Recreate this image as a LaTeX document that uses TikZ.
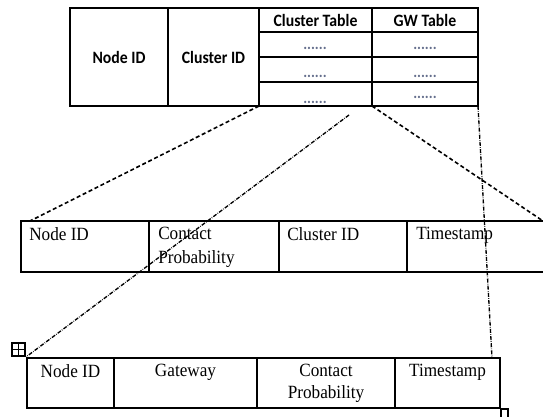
\documentclass[tikz,border=0pt]{standalone}
\usepackage{fontspec}
\setmainfont{Liberation Serif}[FakeStretch=0.92]
\newfontfamily\hdrfont{Carlito}[FakeStretch=0.91]
\definecolor{dotgray}{RGB}{100,110,140}
\tikzset{
  hdr/.style={font=\hdrfont\bfseries\fontsize{13}{15}\selectfont, inner sep=0pt},
  celldots/.style={font=\hdrfont\bfseries\fontsize{12}{14}\selectfont, text=dotgray, inner sep=0pt, anchor=base},
  lefttxt/.style={font=\fontsize{14}{17.7}\selectfont, align=left, anchor=north west, inner sep=0pt},
  midtxt/.style={font=\fontsize{14}{16.3}\selectfont, align=center, anchor=north, inner sep=0pt},
  gridline/.style={line width=1.5pt},
  dashlink/.style={densely dashed, line width=1.2pt},
  dotlink/.style={densely dash dot, line width=1pt},
}
\begin{document}
\begin{tikzpicture}[x=0.75pt, y=-0.75pt]
  \useasboundingbox (0,0) rectangle (543,417);
  \clip (0,0) rectangle (543,417);

  % upper record
  \draw[gridline] (70,8) rectangle (478,106);
  \draw[gridline] (168,8) -- (168,106);
  \draw[gridline] (259,8) -- (259,106);
  \draw[gridline] (372,8) -- (372,106);
  \foreach \y in {32,57,82}
    \draw[gridline] (259,\y) -- (478,\y);

  \node[hdr] (tnode) at (119,57) {Node ID};
  \node[hdr] (tcluster) at (213.5,57) {Cluster ID};
  \node[hdr] (tctab) at (315.5,20) {Cluster Table};
  \node[hdr] (tgw) at (425,20) {GW Table};
  \node[celldots] (ct1) at (315,50) {......};
  \node[celldots] (gw1) at (425,50) {......};
  \node[celldots] (ct2) at (315,77.5) {......};
  \node[celldots] (gw2) at (425,77.5) {......};
  \node[celldots] (ct3) at (315,103.5) {......};
  \node[celldots] (gw3) at (425,98.5) {......};

  % cluster table entry
  \draw[gridline] (21,221) rectangle (550,272);
  \draw[gridline] (148.5,221) -- (148.5,272);
  \draw[gridline] (279,221) -- (279,272);
  \draw[gridline] (407,221) -- (407,272);

  \node[lefttxt] (cnode) at (29,227) {Node ID};
  \node[lefttxt] (cprob) at (158,227) {Contact\\Probability};
  \node[lefttxt] (ccluster) at (287,227) {Cluster ID};
  \node[lefttxt] (ctime) at (416,227) {Timestamp};

  % gateway table entry
  \draw[gridline] (27,358) rectangle (500,408);
  \draw[gridline] (114,358) -- (114,408);
  \draw[gridline] (257,358) -- (257,408);
  \draw[gridline] (395,358) -- (395,408);

  \node[midtxt] (gnode) at (70.5,364) {Node ID};
  \node[midtxt] (ggw) at (185.5,364) {Gateway};
  \node[midtxt] (gprob) at (326,364) {Contact\\Probability};
  \node[midtxt] (gtime) at (447.5,364) {Timestamp};

  % table handles
  \draw[line width=0.8pt] (12,343) rectangle (25,356);
  \draw[line width=0.8pt] (18.5,343) -- (18.5,356);
  \draw[line width=0.8pt] (12,349.5) -- (25,349.5);
  \draw[line width=0.8pt] (501,409) rectangle (508,420);

  \coordinate (ctSW) at (259,106);
  \coordinate (ctSE) at (372,106);
  \coordinate (topSE) at (478,106);
  \coordinate (ctBelow) at (349,115);
  \coordinate (midNW) at (30,221);
  \coordinate (midNE) at (543,221);
  \coordinate (botNW) at (26,357);
  \coordinate (botNE) at (492,358);

  \draw[dashlink] (ctSW) to (midNW);
  \draw[dashlink] (ctSE) to (midNE);
  \draw[dotlink] (ctBelow) to (botNW);
  \draw[dotlink] (topSE) to (botNE);
\end{tikzpicture}
\end{document}
